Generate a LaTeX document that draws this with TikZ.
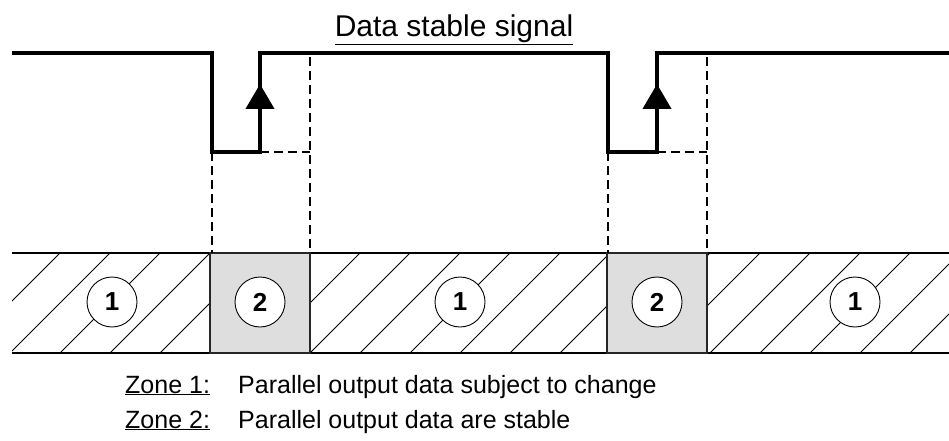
\documentclass[tikz,border=0pt]{standalone}
\usepackage{fontspec}
\setmainfont{Liberation Sans}
\usetikzlibrary{arrows.meta,positioning,calc}

\begin{document}
\begin{tikzpicture}[x=1pt,y=-1pt,
    signal/.style={line width=4.2pt,line join=miter},
    guide/.style={line width=1.8pt,dash pattern=on 9pt off 5pt},
    hatch/.style={line width=0.8pt},
    stablebox/.style={draw=black!85,line width=1.8pt,fill=black!13},
    zonemark/.style={circle,draw,line width=0.9pt,fill=white,minimum size=50pt,inner sep=0pt,font=\fontsize{26}{26}\selectfont\bfseries},
    legend/.style={anchor=base west,inner sep=0pt,font=\fontsize{25}{30}\selectfont}]
            \useasboundingbox (0,0) rectangle (949,441);

            % Title
            \node[anchor=base,inner sep=0pt,font=\fontsize{30}{36}\selectfont] (title) at (454,37) {\underline{Data stable signal}};

            % Signal corners
            \coordinate (start) at (12,53);
            \coordinate (fall1) at (212,53);
            \coordinate (low1a) at (212,152);
            \coordinate (low1b) at (260,152);
            \coordinate (tip1) at (260,84);
            \coordinate (rise1) at (260,53);
            \coordinate (fall2) at (608,53);
            \coordinate (low2a) at (608,152);
            \coordinate (low2b) at (657,152);
            \coordinate (tip2) at (657,84);
            \coordinate (rise2) at (657,53);
            \coordinate (stop) at (949,53);

            % Band corners
            \coordinate (bandNW) at (12,253);
            \coordinate (bandSE) at (949,353);

            % Hatched band
            \begin{scope}
                \clip (bandNW) rectangle (bandSE);
                \foreach \i in {-2,...,19}
                    \draw[hatch] (10+50*\i,353) -- ++(100,-100);
            \end{scope}
            \draw[line width=1.6pt] (bandNW) -- (bandNW -| bandSE);
            \draw[line width=1.6pt] (bandNW |- bandSE) -- (bandSE);

            % Stable zones
            \draw[stablebox] (210,253) rectangle (310,353);
            \draw[stablebox] (607,253) rectangle (707,353);

            % Dashed guides
            \draw[guide] (low1a) -- (212,253);
            \draw[guide] (low1b) -- (310,152);
            \draw[guide] (310,57) -- (310,253);
            \draw[guide] (low2a) -- (608,253);
            \draw[guide] (low2b) -- (707,152);
            \draw[guide] (707,57) -- (707,253);

            % Signal
            \draw[signal] (start) -- (fall1) -- (low1a) -- (low1b) -- (rise1) -- (fall2) -- (low2a) -- (low2b) -- (rise2) -- (stop);
            \draw[signal,-{Triangle[length=25pt,width=28pt]}] (low1b) -- (tip1);
            \draw[signal,-{Triangle[length=25pt,width=28pt]}] (low2b) -- (tip2);

            % Zone marks
            \node[zonemark] (zoneA) at (112,302) {1};
            \node[zonemark] (zoneB) at (260,302) {2};
            \node[zonemark] (zoneC) at (460,302) {1};
            \node[zonemark] (zoneD) at (657,302) {2};
            \node[zonemark] (zoneE) at (855,302) {1};

            % Legend
            \node[legend] (key1) at (125,393) {\underline{Zone 1:}};
            \node[legend] (text1) at (238,393) {Parallel output data subject to change};
            \node[legend] (key2) at (125,428) {\underline{Zone 2:}};
            \node[legend] (text2) at (238,428) {Parallel output data are stable};

        \end{tikzpicture}
\end{document}
